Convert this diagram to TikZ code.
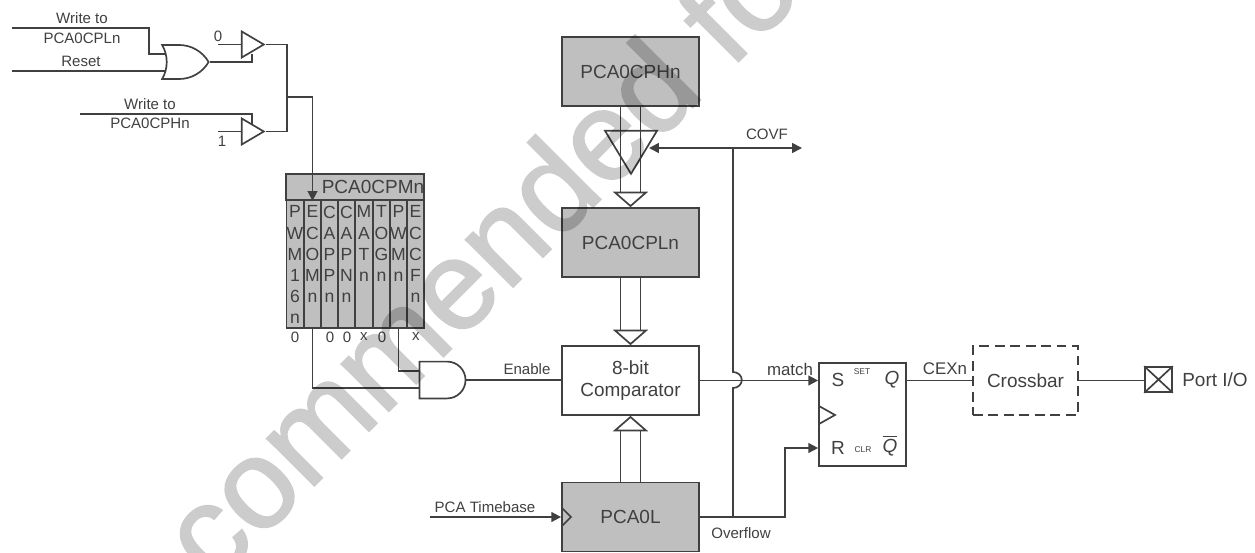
\documentclass[tikz,border=0pt]{standalone}
\usepackage{xcolor}
\usepackage{amsmath}
\usepackage{fontspec}
\setmainfont{Liberation Sans}
\newfontfamily\markfont[FakeBold=1.5]{Liberation Sans}
\usetikzlibrary{arrows.meta,shapes.geometric,shapes.gates.logic.US}
\definecolor{inkgray}{rgb}{0.25, 0.25, 0.25}
\definecolor{regbg}{rgb}{0.75, 0.75, 0.75}

\begin{document}
\begin{tikzpicture}[
  x=0.025cm, y=-0.025cm,
  line width=1.2pt, draw=inkgray, text=inkgray,
  reg/.style={draw, fill=regbg, minimum width=3.425cm, minimum height=1.725cm, inner sep=0pt, font=\fontsize{13.5}{15}\selectfont},
  blk/.style={draw, minimum width=3.425cm, minimum height=1.725cm, inner sep=0pt, align=center, font=\fontsize{13.5}{16}\selectfont},
  lbl/.style={inner sep=0pt, font=\fontsize{10.7}{12}\selectfont},
  lblb/.style={inner sep=0pt, font=\fontsize{12}{12}\selectfont},
  big/.style={inner sep=0pt, font=\fontsize{13.5}{15}\selectfont},
  tiny/.style={inner sep=0pt, font=\fontsize{6}{6}\selectfont},
  arr/.style={-{Triangle[length=7pt,width=7pt]}},
  bus/.style={double, double distance=13pt, -{Triangle[open,fill=white,length=11pt,width=25pt]}},
  buf/.style={draw, isosceles triangle, isosceles triangle stretches, anchor=apex, inner sep=0pt, minimum width=0.65cm, minimum height=0.55cm},
  col/.style={draw, fill=regbg, minimum width=0.431cm, minimum height=3.2cm, inner sep=0pt},
  coltxt/.style={inner sep=0pt, align=center, font=\fontsize{12.5}{15}\selectfont}
]
  \useasboundingbox (0, 0) rectangle (1255, 552);

  % registers and blocks
  \node[reg] (pch)  at (630.5, 71.5)  {PCA0CPHn};
  \node[reg] (pcl)  at (630.5, 242.5) {PCA0CPLn};
  \node[blk] (comp) at (630.5, 380.5) {8-bit\\Comparator};
  \node[reg] (pca)  at (630.5, 517)   {PCA0L};
  \node[draw, minimum width=2.175cm, minimum height=2.575cm, inner sep=0pt] (ff) at (862.5, 414.5) {};
  \node[blk, dash pattern=on 7pt off 4pt, line width=1.4pt, minimum width=2.625cm] (xbar) at (1025.5, 380.5) {Crossbar};
  \node[draw, minimum width=0.675cm, minimum height=0.625cm, inner sep=0pt] (port) at (1158.5, 379.5) {};
  \draw (port.north west) -- (port.south east) (port.south west) -- (port.north east);

  % mode register
  \node[draw, fill=regbg, minimum width=3.45cm, minimum height=0.65cm, inner sep=0pt] (cpm) at (355, 187) {};
  \node[big, anchor=east] (cpmt) at (425, 187) {PCA0CPMn};
  \foreach \n/\x/\t in {
      a/295/{P\\W\\M\\1\\6\\n}, b/312.5/{E\\C\\O\\M\\n}, c/329.5/{C\\A\\P\\P\\n}, d/346.5/{C\\A\\P\\N\\n},
      e/364/{M\\A\\T\\n}, f/381.5/{T\\O\\G\\n}, g/398.5/{P\\W\\M\\n}, h/415.5/{E\\C\\C\\F\\n}} {
    \node[col] (col\n) at (\x, 264) {};
    \node[coltxt, anchor=north] (txt\n) at (\x, 205) {\t};
  }
  \node[lbl] (v0) at (295, 337) {0};
  \node[lbl] (v1) at (330, 337) {0};
  \node[lbl] (v2) at (347, 337) {0};
  \node[lbl] (v3) at (364, 337) {x};
  \node[lbl] (v4) at (382, 337) {0};
  \node[lbl] (v5) at (416, 337) {x};

  % gates
  \node[or gate US, draw, logic gate inputs=nn, inner sep=0pt, minimum width=0.95cm, minimum height=0.85cm] (org) at (182, 62) {};
  \node[and gate US, draw, logic gate inputs=nn, inner sep=0pt, minimum width=1.15cm, minimum height=0.78cm] (andg) at (441, 380) {};
  \node[buf] (buf0) at (266, 44.5) {};
  \node[buf] (buf1) at (266, 131.5) {};

  % labels
  \node[lbl] (t1) at (82, 18)   {Write to};
  \node[lbl] (t2) at (82, 38)   {PCA0CPLn};
  \node[lbl] (t3) at (81, 61)   {Reset};
  \node[lbl] (t4) at (150, 104) {Write to};
  \node[lbl] (t5) at (150, 123) {PCA0CPHn};
  \node[lbl] (t6) at (218, 36)  {0};
  \node[lbl] (t7) at (222, 141) {1};
  \node[lbl] (t8) at (527, 369) {Enable};
  \node[lbl] (t9) at (767, 134) {COVF};
  \node[lblb] (t10) at (790, 369) {match};
  \node[lbl] (t11) at (741, 533) {Overflow};
  \node[lbl] (t12) at (485, 507) {PCA Timebase};
  \node[lblb] (t13) at (945, 369) {CEXn};
  \node[big] (t14) at (1215, 380) {Port I/O};
  \node[big] (s)  at (838, 380) {S};
  \node[big] (r)  at (838, 448) {R};
  \node[tiny] (st) at (862, 372) {SET};
  \node[tiny] (cl) at (863, 450) {CLR};
  \node[big] (q)  at (892, 380) {\textit{Q}};
  \node[big] (qb) at (890, 446) {$\overline{\mbox{\textit{Q}}}$};

  % free ends
  \coordinate (wl)  at (12, 28);
  \coordinate (rs)  at (12, 71);
  \coordinate (or1) at (165, 54);
  \coordinate (or2) at (166, 71);
  \coordinate (wh)  at (80, 114);
  \coordinate (in0) at (218, 44.5);
  \coordinate (in1) at (218, 131.5);
  \coordinate (ctl0) at (252, 54);
  \coordinate (ctl1) at (252, 124);
  \coordinate (jn)  at (287, 97);
  \coordinate (and1) at (419, 371);
  \coordinate (and2) at (419, 388);
  \coordinate (cv)  at (733, 148);
  \coordinate (cvt) at (802, 148);
  \coordinate (cvi) at (649, 148);
  \coordinate (ovf) at (733, 517);
  \coordinate (rk)  at (785, 517);
  \coordinate (tb)  at (430, 517);
  \coordinate (ck1) at (562, 508);
  \coordinate (ck2) at (571, 517);
  \coordinate (ck3) at (562, 526);
  \coordinate (fk1) at (819, 406);
  \coordinate (fk2) at (835, 415);
  \coordinate (fk3) at (819, 424);

  % buses
  \draw[bus] (pch.south) -- (pcl.north);
  \draw[bus] (pcl.south) -- (comp.north);
  \draw[bus] (pca.north) -- (comp.south);
  \node[draw, isosceles triangle, isosceles triangle stretches, shape border rotate=-90, anchor=apex, inner sep=0pt, minimum width=1.3cm, minimum height=1.075cm] (tri) at (631, 176) {};

  % wires
  \draw (wl) -| (149, 54) -- (or1);
  \draw (rs) -- (or2);
  \draw (in0) -- (in0 -| buf0.west);
  \draw (org.output) -| (ctl0);
  \draw (wh) -| (ctl1);
  \draw (in1) -- (in1 -| buf1.west);
  \draw (buf0.apex) -| (jn) |- (buf1.apex);
  \draw[arr] (jn) -| (cpm.south -| colb.north);
  \draw (colb.south) |- (and2);
  \draw (colg.south) |- (and1);
  \draw (andg.output) -- (comp.west |- andg.output);
  \draw (ovf) -- (733, 388) arc[start angle=-90, end angle=90, x radius=0.22cm, y radius=0.2cm] -- (cv);
  \draw[arr] (cv) -- (cvt);
  \draw[arr] (cv) -- (cvi);
  \draw[arr] (comp.east) -- (ff.west |- comp.east);
  \draw[arr] (pca.east |- ovf) -- (rk) |- (ff.west |- r);
  \draw[arr] (tb) -- (pca.west |- tb);
  \draw (ff.east |- xbar.west) -- (xbar.west);
  \draw (xbar.east) -- (port.west |- xbar.east);

  % clock marks
  \draw (ck1) -- (ck2) -- (ck3);
  \draw (fk1) -- (fk2) -- (fk3);

  % overlay lettering
  \begin{scope}[transparency group, opacity=0.2]
    \clip (0, 0) rectangle (1255, 552);
    \node[anchor=base west, inner sep=0pt, rotate=45, text=black, font=\markfont\fontsize{90}{90}\selectfont] (mark) at (213, 587) {commended fo};
  \end{scope}
\end{tikzpicture}
\end{document}
